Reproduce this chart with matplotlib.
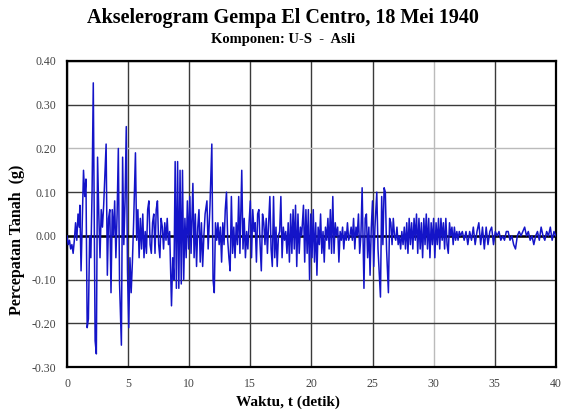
import matplotlib
matplotlib.use('Agg')
import matplotlib.pyplot as plt

# El Centro 1940, komponen U-S (perkiraan)
time_s = [
    0.00, 0.10, 0.20, 0.30, 0.40, 0.50, 0.60, 0.70, 0.80, 0.90,
    1.00, 1.05, 1.15, 1.25, 1.35, 1.45, 1.55, 1.65, 1.75, 1.85,
    1.95, 2.05, 2.15, 2.30, 2.40, 2.50, 2.60, 2.70, 2.80, 2.90,
    3.00, 3.10, 3.20, 3.30, 3.40, 3.50, 3.60, 3.70, 3.80, 3.90,
    4.00, 4.10, 4.20, 4.30, 4.45, 4.55, 4.65, 4.75, 4.85, 4.95,
    5.05, 5.15, 5.25, 5.35, 5.45, 5.60, 5.70, 5.80, 5.90, 6.00,
    6.10, 6.20, 6.30, 6.40, 6.50, 6.60, 6.70, 6.80, 6.90, 7.00,
    7.10, 7.20, 7.30, 7.40, 7.50, 7.60, 7.70, 7.80, 7.90, 8.00,
    8.10, 8.20, 8.30, 8.40, 8.55, 8.65, 8.75, 8.85, 8.95, 9.05,
    9.15, 9.25, 9.35, 9.45, 9.55, 9.65, 9.75, 9.85, 9.95, 10.05,
    10.15, 10.30, 10.40, 10.50, 10.60, 10.70, 10.80, 10.90, 11.00, 11.10,
    11.20, 11.30, 11.45, 11.55, 11.70, 11.85, 11.95, 12.05, 12.15, 12.25,
    12.35, 12.45, 12.55, 12.65, 12.75, 12.85, 12.95, 13.05, 13.15, 13.25,
    13.35, 13.45, 13.55, 13.65, 13.75, 13.85, 13.95, 14.05, 14.15, 14.30,
    14.40, 14.50, 14.60, 14.70, 14.80, 14.90, 15.00, 15.10, 15.20, 15.30,
    15.40, 15.50, 15.60, 15.70, 15.80, 15.90, 16.00, 16.10, 16.20, 16.30,
    16.40, 16.50, 16.60, 16.70, 16.80, 16.90, 17.00, 17.10, 17.20, 17.30,
    17.40, 17.50, 17.60, 17.70, 17.80, 17.90, 18.00, 18.10, 18.20, 18.30,
    18.40, 18.50, 18.60, 18.70, 18.80, 18.90, 19.00, 19.10, 19.20, 19.35,
    19.45, 19.55, 19.65, 19.75, 19.85, 19.95, 20.05, 20.15, 20.25, 20.35,
    20.45, 20.55, 20.65, 20.75, 20.85, 20.95, 21.05, 21.15, 21.25, 21.35,
    21.45, 21.55, 21.65, 21.75, 21.85, 21.95, 22.05, 22.15, 22.25, 22.35,
    22.45, 22.55, 22.65, 22.75, 22.85, 22.95, 23.05, 23.15, 23.25, 23.35,
    23.45, 23.55, 23.65, 23.75, 23.85, 23.95, 24.05, 24.15, 24.30, 24.40,
    24.50, 24.60, 24.70, 24.80, 24.90, 25.00, 25.10, 25.20, 25.35, 25.45,
    25.65, 25.75, 25.85, 25.95, 26.05, 26.15, 26.30, 26.40, 26.50, 26.60,
    26.70, 26.80, 26.90, 27.00, 27.10, 27.20, 27.30, 27.40, 27.50, 27.60,
    27.70, 27.80, 27.90, 28.00, 28.10, 28.20, 28.30, 28.40, 28.50, 28.60,
    28.70, 28.80, 28.90, 29.00, 29.10, 29.20, 29.30, 29.40, 29.50, 29.60,
    29.70, 29.80, 29.90, 30.00, 30.10, 30.20, 30.30, 30.40, 30.50, 30.60,
    30.70, 30.80, 30.90, 31.00, 31.10, 31.20, 31.30, 31.40, 31.50, 31.60,
    31.70, 31.80, 31.90, 32.00, 32.10, 32.20, 32.35, 32.50, 32.65, 32.80,
    32.95, 33.10, 33.25, 33.40, 33.55, 33.70, 33.85, 34.00, 34.15, 34.30,
    34.45, 34.60, 34.75, 34.90, 35.05, 35.20, 35.35, 35.50, 35.65, 35.80,
    35.95, 36.10, 36.25, 36.40, 36.55, 36.70, 36.85, 37.00, 37.15, 37.30,
    37.45, 37.60, 37.75, 37.90, 38.05, 38.20, 38.35, 38.50, 38.65, 38.80,
    38.95, 39.10, 39.25, 39.40, 39.55, 39.70, 39.85, 40.00,
]
accel_g = [
    0.00, -0.02, -0.01, -0.03, -0.02, -0.04, -0.01, 0.03, -0.01, 0.05,
    0.02, 0.07, -0.08, 0.03, 0.15, 0.09, 0.13, -0.21, -0.19, 0.00,
    -0.05, 0.10, 0.35, -0.24, -0.27, 0.18, 0.05, -0.05, 0.06, 0.02,
    0.07, 0.14, 0.21, -0.09, 0.04, 0.06, -0.13, 0.06, 0.00, 0.08,
    -0.05, 0.05, 0.20, -0.11, -0.25, 0.18, -0.02, 0.08, 0.25, -0.08,
    -0.21, -0.05, -0.13, -0.06, 0.03, 0.19, -0.01, 0.06, -0.05, 0.04,
    -0.03, 0.05, -0.05, 0.01, -0.04, 0.06, 0.08, -0.02, -0.04, 0.03,
    0.05, -0.04, 0.06, 0.08, -0.02, -0.05, 0.04, 0.02, -0.03, 0.03,
    -0.01, 0.04, -0.02, 0.01, -0.16, -0.05, -0.10, 0.17, -0.12, 0.17,
    -0.12, 0.15, -0.11, 0.15, -0.10, 0.04, -0.05, 0.08, -0.03, 0.09,
    -0.04, 0.12, -0.05, 0.05, -0.07, 0.02, 0.06, -0.06, 0.03, -0.07,
    0.00, 0.05, 0.08, -0.03, 0.07, 0.21, -0.10, -0.13, 0.03, -0.01,
    0.03, -0.02, 0.02, -0.06, 0.03, -0.02, 0.06, 0.10, -0.01, -0.05,
    -0.08, 0.09, -0.04, 0.02, -0.05, 0.03, -0.02, 0.09, -0.04, 0.15,
    -0.03, 0.04, -0.05, 0.01, -0.03, 0.03, 0.08, -0.05, 0.06, 0.01,
    0.03, -0.06, 0.05, 0.06, -0.02, -0.08, 0.05, 0.03, -0.02, 0.04,
    -0.04, 0.03, 0.09, -0.03, -0.07, 0.09, -0.05, 0.02, -0.07, 0.00,
    0.01, 0.09, -0.05, 0.02, -0.01, 0.01, -0.04, 0.03, -0.06, 0.05,
    -0.04, 0.06, -0.03, 0.07, -0.07, 0.05, -0.04, 0.02, 0.00, 0.07,
    -0.06, 0.06, -0.04, 0.06, -0.10, 0.05, -0.05, 0.06, -0.06, 0.03,
    -0.09, 0.02, -0.02, 0.05, -0.04, 0.01, -0.06, 0.02, -0.01, 0.04,
    -0.03, 0.06, -0.04, 0.09, -0.04, 0.03, 0.00, 0.02, -0.06, 0.01,
    -0.01, 0.02, -0.03, 0.01, -0.01, 0.03, -0.01, 0.00, 0.02, -0.01,
    0.04, -0.03, 0.02, 0.00, 0.05, -0.04, 0.00, 0.11, -0.12, 0.04,
    0.05, -0.05, 0.02, -0.09, 0.02, 0.08, -0.07, 0.02, 0.10, -0.03,
    -0.14, 0.09, -0.02, 0.11, 0.10, -0.03, -0.13, 0.04, 0.03, -0.02,
    0.04, 0.00, -0.01, 0.02, -0.02, 0.00, -0.03, 0.01, -0.02, 0.02,
    -0.03, 0.03, -0.04, 0.04, -0.02, 0.03, -0.03, 0.04, -0.01, 0.05,
    -0.04, 0.04, -0.03, 0.03, -0.05, 0.04, -0.02, 0.05, -0.03, 0.04,
    -0.05, 0.03, -0.02, 0.04, -0.05, 0.03, -0.02, 0.04, -0.03, 0.04,
    -0.01, 0.03, -0.03, 0.04, -0.02, -0.04, 0.03, 0.00, 0.02, -0.02,
    0.02, -0.01, 0.01, -0.01, 0.01, 0.00, 0.01, -0.01, 0.01, -0.02,
    0.01, -0.01, 0.02, -0.02, 0.01, 0.03, -0.02, 0.02, -0.03, 0.02,
    -0.02, 0.01, 0.02, -0.02, 0.01, 0.00, 0.01, -0.01, 0.00, -0.01,
    0.01, 0.01, -0.01, 0.00, -0.02, -0.03, 0.00, 0.01, 0.00, 0.01,
    0.02, 0.00, 0.01, -0.01, 0.00, -0.02, 0.00, 0.01, -0.01, 0.02,
    0.00, -0.01, 0.01, 0.00, 0.02, -0.01, 0.01, 0.00,
]

x_ticks = [0, 5, 10, 15, 20, 25, 30, 35, 40]
y_ticks = [-0.30, -0.20, -0.10, 0.00, 0.10, 0.20, 0.30, 0.40]

plt.rcParams['font.family'] = ['Liberation Serif', 'DejaVu Serif']

fig = plt.figure(figsize=(5.66, 4.11), dpi=100)
ax = fig.add_axes([0.1184, 0.107, 0.8636, 0.7446])

ax.plot(time_s, accel_g, color='#1414c8', lw=1.1, zorder=3)

ax.set_xlim(0, 40)
ax.set_ylim(-0.30, 0.40)
ax.set_xticks(x_ticks)
ax.set_yticks(y_ticks)
ax.set_yticklabels([f'{v:.2f}' for v in y_ticks])
ax.tick_params(length=0, labelsize=8.5, labelcolor='#444444', pad=8)

ax.grid(True, color='#3a3a3a', lw=1.0, zorder=1)
# garis grid yang tampak lebih terang di gambar asli
ax.get_ygridlines()[y_ticks.index(0.20)].set_color('#bbbbbb')
ax.get_xgridlines()[x_ticks.index(30)].set_color('#bbbbbb')
ax.axhline(0, color='black', lw=1.8, zorder=2)
for s in ax.spines.values():
    s.set_linewidth(1.6)
    s.set_color('black')

fig.text(0.5, 0.957, 'Akselerogram Gempa El Centro, 18 Mei 1940',
         ha='center', va='center', fontsize=14.5, fontweight='bold')
fig.text(0.5, 0.905, 'Komponen: U-S  -  Asli',
         ha='center', va='center', fontsize=10.5, fontweight='bold')
fig.text(0.508, 0.022, 'Waktu, t (detik)', ha='center', va='center',
         fontsize=11, fontweight='bold')
fig.text(0.03, 0.416, 'Percepatan Tanah  (g)', ha='center', va='center',
         rotation=90, fontsize=11.5, fontweight='bold')

fig.savefig('out.png', dpi=100)
